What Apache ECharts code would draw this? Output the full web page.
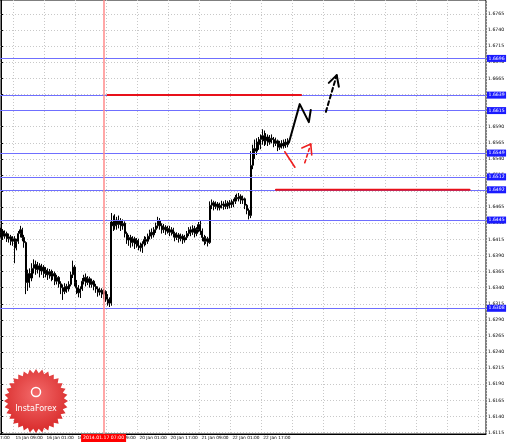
<!DOCTYPE html>
<html>
<head>
<meta charset="utf-8">
<script src="https://cdn.jsdelivr.net/npm/echarts@6/dist/echarts.min.js"></script>
<style>
html, body { margin: 0; padding: 0; background: #fff; }
#chart { width: 510px; height: 445px; }
</style>
</head>
<body>
<div id="chart"></div>
<script>
// H1 candles, 15 Jan 02:00 .. 23 Jan 06:00
const opens = [
  1.6425,1.6428,1.6420,1.6424,1.6416,1.6419,1.6412,1.6416,1.6402,1.6412,
  1.6424,1.6430,1.6418,1.6410,1.6348,1.6362,1.6355,1.6370,1.6376,1.6368,
  1.6374,1.6366,1.6372,1.6362,1.6367,1.6360,1.6365,1.6358,1.6362,1.6350,
  1.6356,1.6346,1.6340,1.6334,1.6342,1.6338,1.6345,1.6360,1.6372,1.6348,
  1.6340,1.6332,1.6338,1.6350,1.6356,1.6348,1.6354,1.6345,1.6350,1.6342,
  1.6338,1.6333,1.6336,1.6330,1.6334,1.6326,1.6322,1.6316,1.6442,1.6436,
  1.6445,1.6438,1.6444,1.6436,1.6440,1.6424,1.6414,1.6418,1.6410,1.6416,
  1.6408,1.6413,1.6405,1.6402,1.6408,1.6415,1.6412,1.6420,1.6426,1.6422,
  1.6430,1.6436,1.6444,1.6436,1.6430,1.6434,1.6428,1.6432,1.6426,1.6430,
  1.6424,1.6418,1.6422,1.6416,1.6420,1.6414,1.6418,1.6424,1.6430,1.6426,
  1.6432,1.6424,1.6430,1.6438,1.6428,1.6418,1.6412,1.6416,1.6410,1.6468,
  1.6472,1.6466,1.6470,1.6464,1.6468,1.6470,1.6466,1.6471,1.6467,1.6472,
  1.6469,1.6474,1.6480,1.6478,1.6482,1.6476,1.6478,1.6468,1.6460,1.6452,
  1.6530,1.6556,1.6552,1.6566,1.6562,1.6570,1.6576,1.6568,1.6574,1.6566,
  1.6572,1.6570,1.6564,1.6568,1.6558,1.6564,1.6560,1.6566,1.6562
];
const closes = [
  1.6428,1.6420,1.6424,1.6416,1.6419,1.6412,1.6416,1.6402,1.6412,1.6424,
  1.6430,1.6418,1.6410,1.6348,1.6362,1.6355,1.6370,1.6376,1.6368,1.6374,
  1.6366,1.6372,1.6362,1.6367,1.6360,1.6365,1.6358,1.6362,1.6350,1.6356,
  1.6346,1.6340,1.6334,1.6342,1.6338,1.6345,1.6360,1.6372,1.6348,1.6340,
  1.6332,1.6338,1.6350,1.6356,1.6348,1.6354,1.6345,1.6350,1.6342,1.6338,
  1.6333,1.6336,1.6330,1.6334,1.6326,1.6322,1.6316,1.6442,1.6436,1.6445,
  1.6438,1.6444,1.6436,1.6440,1.6424,1.6414,1.6418,1.6410,1.6416,1.6408,
  1.6413,1.6405,1.6402,1.6408,1.6415,1.6412,1.6420,1.6426,1.6422,1.6430,
  1.6436,1.6444,1.6436,1.6430,1.6434,1.6428,1.6432,1.6426,1.6430,1.6424,
  1.6418,1.6422,1.6416,1.6420,1.6414,1.6418,1.6424,1.6430,1.6426,1.6432,
  1.6424,1.6430,1.6438,1.6428,1.6418,1.6412,1.6416,1.6410,1.6468,1.6472,
  1.6466,1.6470,1.6464,1.6468,1.6470,1.6466,1.6471,1.6467,1.6472,1.6469,
  1.6474,1.6480,1.6478,1.6482,1.6476,1.6478,1.6468,1.6460,1.6452,1.6530,
  1.6556,1.6552,1.6566,1.6562,1.6570,1.6576,1.6568,1.6574,1.6566,1.6572,
  1.6570,1.6564,1.6568,1.6558,1.6564,1.6560,1.6566,1.6562,1.6568
];
const lows = [
  1.6418,1.6415,1.6416,1.6411,1.6410,1.6406,1.6405,1.6378,1.6398,1.6408,
  1.6418,1.6412,1.6402,1.6330,1.6335,1.6340,1.6350,1.6362,1.6360,1.6362,
  1.6356,1.6360,1.6355,1.6356,1.6352,1.6354,1.6350,1.6352,1.6344,1.6345,
  1.6340,1.6330,1.6321,1.6330,1.6332,1.6334,1.6342,1.6355,1.6342,1.6330,
  1.6325,1.6324,1.6335,1.6345,1.6342,1.6344,1.6340,1.6340,1.6336,1.6332,
  1.6326,1.6328,1.6324,1.6322,1.6318,1.6312,1.6310,1.6312,1.6428,1.6430,
  1.6430,1.6432,1.6428,1.6430,1.6418,1.6408,1.6405,1.6402,1.6404,1.6400,
  1.6402,1.6398,1.6396,1.6394,1.6404,1.6406,1.6408,1.6415,1.6416,1.6418,
  1.6425,1.6432,1.6430,1.6424,1.6425,1.6422,1.6424,1.6420,1.6421,1.6418,
  1.6412,1.6414,1.6410,1.6412,1.6408,1.6410,1.6414,1.6420,1.6420,1.6422,
  1.6418,1.6420,1.6426,1.6422,1.6412,1.6406,1.6408,1.6404,1.6408,1.6462,
  1.6460,1.6462,1.6460,1.6460,1.6463,1.6461,1.6462,1.6462,1.6463,1.6464,
  1.6465,1.6470,1.6474,1.6474,1.6470,1.6470,1.6462,1.6454,1.6446,1.6448,
  1.6524,1.6540,1.6546,1.6554,1.6555,1.6562,1.6560,1.6562,1.6560,1.6562,
  1.6564,1.6558,1.6560,1.6552,1.6554,1.6556,1.6556,1.6557,1.6558
];
const highs = [
  1.6433,1.6431,1.6429,1.6427,1.6424,1.6422,1.6420,1.6420,1.6416,1.6428,
  1.6436,1.6433,1.6422,1.6412,1.6368,1.6370,1.6378,1.6384,1.6382,1.6380,
  1.6378,1.6377,1.6375,1.6372,1.6370,1.6369,1.6368,1.6366,1.6365,1.6360,
  1.6358,1.6350,1.6345,1.6347,1.6346,1.6350,1.6365,1.6382,1.6375,1.6352,
  1.6344,1.6342,1.6355,1.6360,1.6362,1.6358,1.6357,1.6354,1.6352,1.6346,
  1.6342,1.6340,1.6339,1.6338,1.6336,1.6330,1.6325,1.6456,1.6452,1.6454,
  1.6450,1.6452,1.6448,1.6446,1.6443,1.6427,1.6422,1.6422,1.6420,1.6419,
  1.6417,1.6416,1.6410,1.6412,1.6420,1.6419,1.6424,1.6430,1.6432,1.6434,
  1.6441,1.6450,1.6448,1.6440,1.6439,1.6437,1.6436,1.6436,1.6434,1.6433,
  1.6427,1.6426,1.6425,1.6424,1.6423,1.6422,1.6428,1.6434,1.6435,1.6437,
  1.6436,1.6434,1.6442,1.6444,1.6432,1.6422,1.6420,1.6419,1.6474,1.6477,
  1.6475,1.6474,1.6473,1.6472,1.6475,1.6474,1.6476,1.6475,1.6476,1.6477,
  1.6478,1.6484,1.6486,1.6487,1.6485,1.6483,1.6480,1.6470,1.6463,1.6552,
  1.6562,1.6570,1.6572,1.6574,1.6578,1.6586,1.6584,1.6580,1.6578,1.6577,
  1.6578,1.6574,1.6573,1.6570,1.6568,1.6569,1.6570,1.6571,1.6572
];

const priceTicks = [
  1.6115,1.6140,1.6165,1.6190,1.6215,1.6240,1.6265,1.6290,1.6315,1.6340,
  1.6365,1.6390,1.6415,1.6440,1.6465,1.6490,1.6515,1.6540,1.6565,1.6590,
  1.6615,1.6640,1.6665,1.6690,1.6715,1.6740,1.6765
];
const levels = [1.6696, 1.6639, 1.6615, 1.6549, 1.6512, 1.6492, 1.6445, 1.6308];
const lastPrice = 1.6568;
const cursorBar = 53;
const cursorLabel = '2014.01.17 07:00';

// analyst drawings: [bar index, price]
const redLine1 = [[55, 1.6639], [155, 1.6639]];
const redLine2 = [[142, 1.6492], [242, 1.6492]];
const upPath = [[148.7, 1.6565], [154.3, 1.6625], [159, 1.6597], [160, 1.6616]];
const upDash = [[167.8, 1.6613], [173.4, 1.6670]];
const upDashHead = [[169.3, 1.6658], [173.4, 1.6670], [174.5, 1.6652]];
const downPath = [[146.6, 1.6551], [151.8, 1.6527]];
const downDash = [[156.9, 1.6534], [160, 1.6563]];
const downDashHead = [[155.4, 1.6557], [160, 1.6563], [160.5, 1.6546]];

const barCount = 251;
const yMin = 1.61128, yMax = 1.67867;

// hourly bars, market closed at the weekend
const categories = [];
let t = Date.UTC(2014, 0, 15, 2);
while (categories.length < barCount) {
  const d = new Date(t);
  const wd = d.getUTCDay();
  if (wd !== 0 && wd !== 6) {
    categories.push(d.getUTCDate() + ' Jan ' + String(d.getUTCHours()).padStart(2, '0') + ':00');
  }
  t += 3600000;
}

const candles = opens.map((o, i) => [o, closes[i], lows[i], highs[i]]);
const labelAt = i => i % 16 === 7 && i < opens.length;
const gridAt = i => i % 16 === 7;

const font = 'DejaVu Sans';

function pathSeries(data, color, width, type) {
  return {
    type: 'line', xAxisIndex: 1, data: data, symbol: 'none', silent: true, z: 10,
    lineStyle: { color: color, width: width, type: type || 'solid', cap: 'round', join: 'round' }
  };
}

const markData = levels.map(v => ({
  yAxis: v,
  lineStyle: { color: '#6f6fff', width: 1, type: 'solid', opacity: 1 },
  label: { backgroundColor: '#1a1aff', color: '#fff' }
}));
markData.push({
  yAxis: lastPrice,
  lineStyle: { opacity: 0 },
  label: { backgroundColor: '#000', color: '#fff' }
});
markData.push({
  xAxis: categories[cursorBar],
  lineStyle: { color: '#ff8a8a', width: 1.5, type: 'solid' },
  label: { position: 'start', formatter: cursorLabel, backgroundColor: '#ff0000', color: '#fff', distance: 0, padding: [1.5, 2] }
});

const seal = [];
for (let k = 0; k < 64; k++) {
  const r = k % 2 ? 28 : 32;
  const a = k / 64 * Math.PI * 2;
  seal.push([36 + r * Math.cos(a), 401 + r * Math.sin(a)]);
}

const chart = echarts.init(document.getElementById('chart'));
chart.setOption({
  animation: false,
  backgroundColor: '#fff',
  grid: { left: 0, right: 24, top: 0, bottom: 11, outerBoundsMode: 'none', show: true, borderColor: '#000', borderWidth: 1 },
  xAxis: [{
    type: 'category', data: categories, boundaryGap: true,
    axisLine: { lineStyle: { color: '#000', width: 1 } },
    axisTick: { alignWithLabel: true, interval: labelAt, length: 3, lineStyle: { color: '#000' } },
    axisLabel: { interval: labelAt, align: 'left', fontSize: 4.3, margin: 2, color: '#000', fontFamily: font, padding: [0, 0, 0, 1] },
    splitLine: { show: true, interval: gridAt, lineStyle: { color: '#c8c8c8', type: [1, 2] } }
  }, {
    type: 'value', min: -0.5, max: barCount - 0.5, show: false
  }],
  yAxis: {
    type: 'value', position: 'right', min: yMin, max: yMax,
    axisLine: { show: true, lineStyle: { color: '#000', width: 1 } },
    axisTick: { show: true, customValues: priceTicks, length: 2, lineStyle: { color: '#000' } },
    axisLabel: { customValues: priceTicks, formatter: v => v.toFixed(4), fontSize: 4.6, margin: 2, color: '#000', fontFamily: font },
    splitLine: { show: true, lineStyle: { color: '#c8c8c8', type: [1, 2] } }
  },
  series: [{
    type: 'candlestick',
    data: candles,
    barWidth: 1.5,
    itemStyle: { color: '#fff', borderColor: '#000', color0: '#000', borderColor0: '#000', borderWidth: 1 },
    markLine: {
      silent: true, symbol: 'none', animation: false, precision: 4,
      label: { position: 'end', distance: 1, fontSize: 4.6, fontFamily: font, padding: [1, 1.5], formatter: p => Number(p.value).toFixed(4) },
      data: markData
    }
  },
    pathSeries(redLine1, '#e8101a', 2),
    pathSeries(redLine2, '#e8101a', 2),
    pathSeries(upPath, '#000', 2),
    pathSeries(upDash, '#000', 2, [4, 3]),
    pathSeries(upDashHead, '#000', 2),
    pathSeries(downPath, '#ee2020', 1.6),
    pathSeries(downDash, '#ee2020', 1.6, [3, 3]),
    pathSeries(downDashHead, '#ee2020', 1.6)
  ],
  graphic: [
    { type: 'text', z: 50, x: 0, y: 438,
      style: { text: '7:00', fill: '#000', font: '4.3px "DejaVu Sans"', align: 'left', verticalAlign: 'middle' } },
    { type: 'polygon', z: 100, shape: { points: seal },
      style: { fill: new echarts.graphic.RadialGradient(0.5, 0.4, 0.6, [
        { offset: 0, color: '#f36a6a' }, { offset: 1, color: '#d82a2a' }]) } },
    { type: 'circle', z: 101, shape: { cx: 36, cy: 392, r: 4.5 },
      style: { fill: 'none', stroke: '#fff', lineWidth: 1.5 } },
    { type: 'text', z: 101, x: 36, y: 409,
      style: { text: 'InstaForex', fill: '#fff', font: '8px "DejaVu Sans"', align: 'center', verticalAlign: 'middle' } }
  ]
});
</script>
</body>
</html>
